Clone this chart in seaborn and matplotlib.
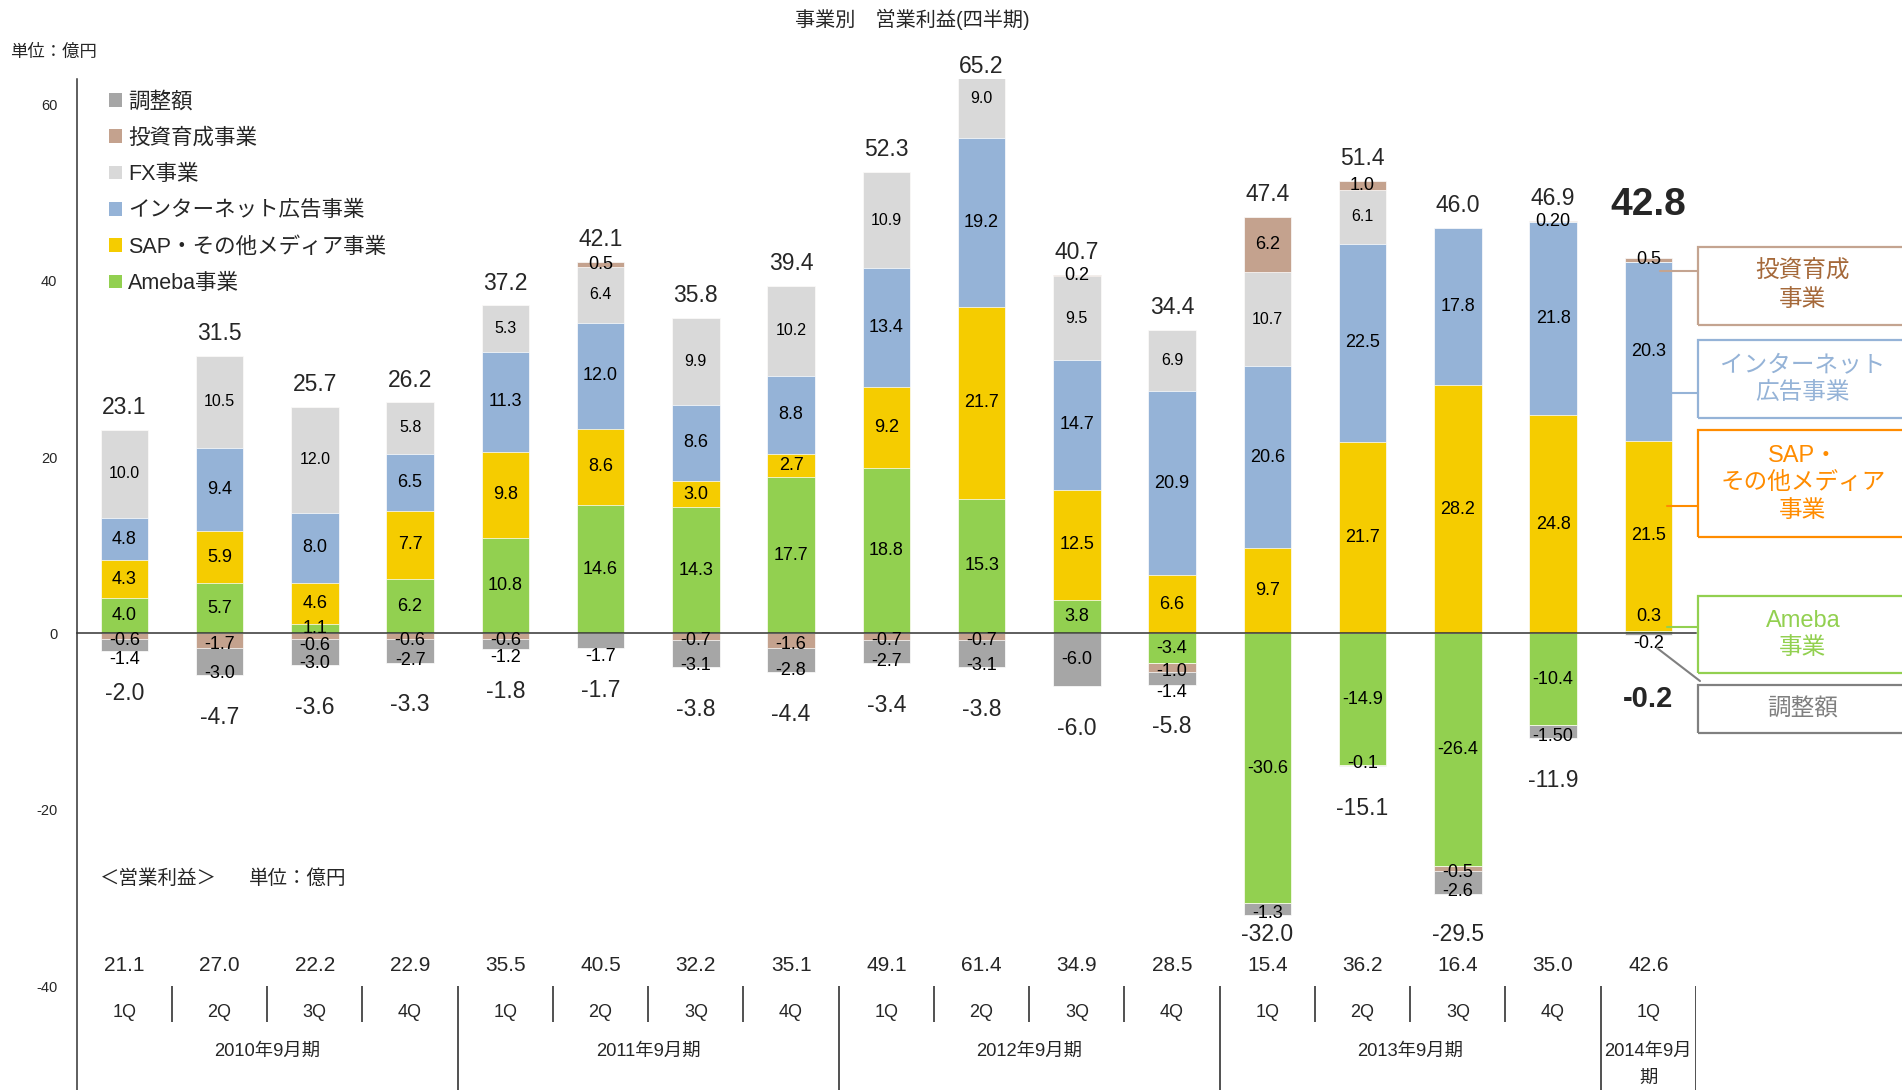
import numpy as np
import seaborn as sns
import matplotlib.pyplot as plt
from matplotlib.patches import Patch, Rectangle
from matplotlib.lines import Line2D

# ---- data (億円) ----
quarters = ['1Q', '2Q', '3Q', '4Q'] * 4 + ['1Q']
fiscal_years = ['2010年9月期', '2011年9月期', '2012年9月期', '2013年9月期', '2014年9月\n期']
year_span = [4, 4, 4, 4, 1]

series_names = ['Ameba事業', 'SAP・その他メディア事業', 'インターネット広告事業',
                'FX事業', '投資育成事業', '調整額']
ameba = [4.0, 5.7, 1.1, 6.2, 10.8, 14.6, 14.3, 17.7, 18.8, 15.3, 3.8, -3.4,
         -30.6, -14.9, -26.4, -10.4, 0.3]
sap = [4.3, 5.9, 4.6, 7.7, 9.8, 8.6, 3.0, 2.7, 9.2, 21.7, 12.5, 6.6,
       9.7, 21.7, 28.2, 24.8, 21.5]
internet = [4.8, 9.4, 8.0, 6.5, 11.3, 12.0, 8.6, 8.8, 13.4, 19.2, 14.7, 20.9,
            20.6, 22.5, 17.8, 21.8, 20.3]
fx = [10.0, 10.5, 12.0, 5.8, 5.3, 6.4, 9.9, 10.2, 10.9, 9.0, 9.5, 6.9,
      10.7, 6.1, 0.0, 0.0, 0.0]
invest = [-0.6, -1.7, -0.6, -0.6, -0.6, 0.5, -0.7, -1.6, -0.7, -0.7, 0.2, -1.0,
          6.2, 1.0, -0.5, 0.20, 0.5]
adjust = [-1.4, -3.0, -3.0, -2.7, -1.2, -1.7, -3.1, -2.8, -2.7, -3.1, -6.0, -1.4,
          -1.3, -0.1, -2.6, -1.50, -0.2]

pos_total = [23.1, 31.5, 25.7, 26.2, 37.2, 42.1, 35.8, 39.4, 52.3, 65.2, 40.7, 34.4,
             47.4, 51.4, 46.0, 46.9, 42.8]
neg_total = [-2.0, -4.7, -3.6, -3.3, -1.8, -1.7, -3.8, -4.4, -3.4, -3.8, -6.0, -5.8,
             -32.0, -15.1, -29.5, -11.9, -0.2]
net_total = [21.1, 27.0, 22.2, 22.9, 35.5, 40.5, 32.2, 35.1, 49.1, 61.4, 34.9, 28.5,
             15.4, 36.2, 16.4, 35.0, 42.6]

colors = ['#92D050', '#F5CC00', '#95B3D7', '#D9D9D9', '#C4A28E', '#A6A6A6']
two_decimals = {(4, 15), (5, 15)}   # 0.20 and -1.50 are printed that way

# ---- style ----
sns.set_style('white')
plt.rcParams['font.family'] = ['Liberation Sans', 'Noto Sans CJK JP']
plt.rcParams['axes.unicode_minus'] = False

W, H = 1902, 1090
Y_TOP, Y_BOT = 62.87, -51.77
fig = plt.figure(figsize=(W / 100, H / 100), dpi=100)
ax = fig.add_axes([76.7 / W, 0, (1696 - 76.7) / W, (H - 79) / H])

vals = np.array([ameba, sap, internet, fx, invest, adjust])
n_series, n = vals.shape
x = np.arange(n)
xcat = [str(i) for i in x]
cum_pos = np.clip(vals, 0, None).cumsum(axis=0)
cum_neg = np.clip(vals, None, 0).cumsum(axis=0)

# stacked bars: draw cumulative heights from the top layer down so each layer
# shows only its own segment
for k in reversed(range(n_series)):
    for cum in (cum_pos, cum_neg):
        sns.barplot(x=xcat, y=cum[k], order=xcat, color=colors[k], saturation=1,
                    width=0.5, errorbar=None, edgecolor='white', linewidth=0.5, ax=ax)

ax.set_xlim(-0.5, n - 0.5)
ax.set_ylim(Y_BOT, Y_TOP)
ax.set_xlabel('')
ax.set_ylabel('')
for side in ('top', 'right'):
    ax.spines[side].set_visible(False)
ax.spines['bottom'].set_position(('data', 0))
for side in ('left', 'bottom'):
    ax.spines[side].set_color('#333333')
    ax.spines[side].set_linewidth(1.1)
ax.set_yticks([-40, -20, 0, 20, 40, 60])
ax.tick_params(axis='y', direction='in', length=4, width=1, labelsize=10.5, pad=14,
               color='#333333')
ax.set_xticks(x + 0.5, labels=[''] * n)
ax.tick_params(axis='x', direction='in', length=4.5, width=1, color='#333333')


# ---- segment labels ----
def label_y(k, i, v, y0, y1):
    center = (y0 + y1) / 2
    h = abs(y1 - y0)
    if v > 0:
        if y0 == 0 and h < 0.9:
            return y1 + 1.6
        return center
    if k == 4:
        # keep clear of a small Ameba label sitting just above the axis
        return center - 0.45 - (0.6 if 0 < vals[0, i] < 2 else 0)
    if k == 5:
        if h < 2 and neg_total[i] > -10:
            return y1 - 0.9
        if h < 4:
            return y1 + 0.2
    return center


for k in range(n_series):
    for i in x:
        v = vals[k, i]
        if v == 0:
            continue
        cum = cum_pos if v > 0 else cum_neg
        y0 = cum[k - 1, i] if k else 0.0
        y1 = cum[k, i]
        txt = f'{v:.2f}' if (k, i) in two_decimals else f'{v:.1f}'
        ax.text(i, label_y(k, i, v, y0, y1), txt, ha='center', va='center',
                fontsize=11.5 if k == 3 else 13, color='black')

# ---- totals ----
for i in x:
    last = i == n - 1
    top = cum_pos[-1, i]
    lift = 38 if last else (9 if top > Y_TOP else 16)
    ax.annotate(f'{pos_total[i]:.1f}', (i, min(top, Y_TOP)), xytext=(0, lift),
                textcoords='offset points', ha='center', va='center',
                fontsize=28 if last else 16.5, fontweight='bold' if last else 'normal')
    if last:
        ax.annotate(f'{neg_total[i]:.1f}', (i, cum_neg[-1, i]), xytext=(0, -46),
                    textcoords='offset points', ha='center', va='center',
                    fontsize=21, fontweight='bold')
    else:
        ax.text(i, max(cum_neg[-1, i] - 4.8, -34.1), f'{neg_total[i]:.1f}',
                ha='center', va='center', fontsize=16.5)
    ax.text(i, -37.7, f'{net_total[i]:.1f}', ha='center', va='center', fontsize=15)

# ---- category table under the chart ----
starts = np.cumsum([0] + year_span[:-1])
year_bounds = starts + np.array(year_span) - 0.5
q_bounds = [b for b in x[:-1] + 0.5 if b not in year_bounds]
ax.vlines(q_bounds, -40, -44.06, color='#333333', lw=1.2)
ax.vlines(year_bounds, -40, Y_BOT, color='#333333', lw=1.2)
for i, q in enumerate(quarters):
    ax.text(i, -42.93, q, ha='center', va='center', fontsize=13)
for s, span, label in zip(starts, year_span, fiscal_years):
    ax.text(s + span / 2 - 0.5, -46.45, label, ha='center', va='top', fontsize=13.2,
            linespacing=1.75)

ax.text(-0.26, -27.77, '＜営業利益＞', ha='left', va='center', fontsize=14)
ax.text(1.31, -27.77, '単位：億円', ha='left', va='center', fontsize=14)

# ---- figure texts ----
fig.text(912 / W, 1 - 19 / H, '事業別\u3000営業利益(四半期)', ha='center', va='center',
         fontsize=14.5)
fig.text(10 / W, 1 - 51.7 / H, '単位：億円', ha='left', va='center', fontsize=12.5)

handles = [Patch(facecolor=c, edgecolor='none', label=nm)
           for nm, c in zip(series_names, colors)][::-1]
ax.legend(handles=handles, loc='upper left', bbox_to_anchor=(108.6 / W, 1 - 91.5 / H),
          bbox_transform=fig.transFigure, frameon=False, fontsize=15.5,
          handlelength=0.6, handleheight=0.6, handletextpad=0.3, labelspacing=0.71,
          borderpad=0, borderaxespad=0)

# ---- call-out boxes on the right ----
callouts = [
    ('投資育成\n事業', '#C4A490', '#A5693A', 247, 325, [(1660, 271), (1698, 271)]),
    ('インターネット\n広告事業', '#95B3D7', '#95B3D7', 340, 418, [(1672, 393), (1698, 393)]),
    ('SAP・\nその他メディア\n事業', '#FF8C00', '#FF8C00', 430, 537, [(1667, 506), (1698, 506)]),
    ('Ameba\n事業', '#92D050', '#92D050', 596, 673, [(1667, 627), (1698, 627)]),
    ('調整額', '#808080', '#7F7F7F', 685, 733, [(1657, 648), (1700, 681)]),
]
for text, edge, tcol, by0, by1, pts in callouts:
    fig.add_artist(Rectangle((1698 / W, 1 - by1 / H), 240 / W, (by1 - by0) / H,
                             transform=fig.transFigure, fill=False, edgecolor=edge, lw=1.6))
    (lx0, ly0), (lx1, ly1) = pts
    fig.add_artist(Line2D([lx0 / W, lx1 / W], [1 - ly0 / H, 1 - ly1 / H],
                          transform=fig.transFigure, color=edge, lw=1.5))
    fig.text(1803 / W, 1 - (by0 + by1) / 2 / H, text, ha='center', va='center',
             fontsize=17, color=tcol, linespacing=1.35)

fig.savefig('out.png', dpi=100, facecolor='white')
